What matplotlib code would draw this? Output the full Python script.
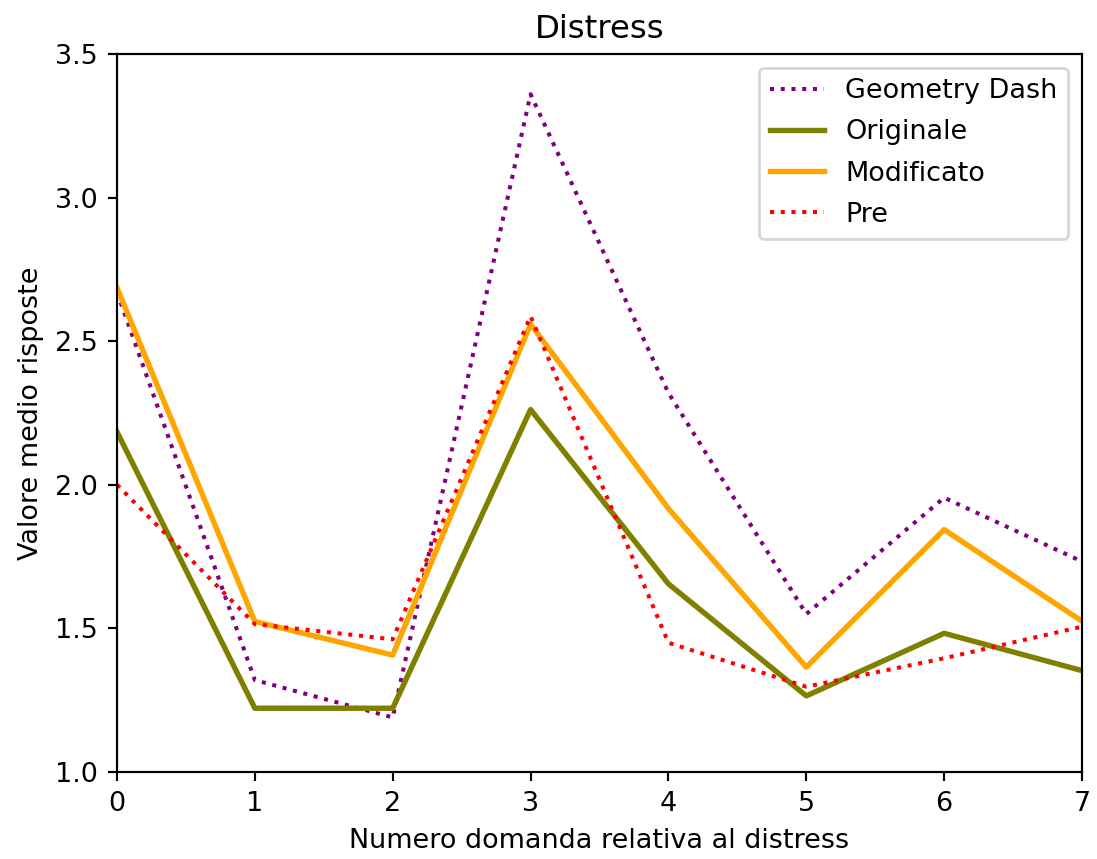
import matplotlib
matplotlib.use("Agg")
import matplotlib.pyplot as plt

questions = [0, 1, 2, 3, 4, 5, 6, 7]
geometry_dash = [2.67, 1.32, 1.19, 3.36, 2.32, 1.55, 1.955, 1.733]
originale = [2.184, 1.222, 1.222, 2.262, 1.655, 1.265, 1.483, 1.353]
modificato = [2.686, 1.524, 1.407, 2.559, 1.917, 1.365, 1.844, 1.525]
pre = [2.0, 1.515, 1.462, 2.587, 1.45, 1.297, 1.396, 1.506]

DPI = 194.5
fig = plt.figure(figsize=(1097 / DPI, 859 / DPI), dpi=DPI)
ax = fig.add_axes([117 / 1097, 1 - 772 / 859, 965 / 1097, 718 / 859])

ax.plot(questions, geometry_dash, linestyle=':', color='purple', label='Geometry Dash')
ax.plot(questions, originale, linestyle='-', color='olive', linewidth=2, label='Originale')
ax.plot(questions, modificato, linestyle='-', color='orange', linewidth=2, label='Modificato')
ax.plot(questions, pre, linestyle=':', color='red', label='Pre')

ax.set_xlim(0, 7)
ax.set_ylim(1.0, 3.5)
ax.set_title('Distress')
ax.set_xlabel('Numero domanda relativa al distress')
ax.set_ylabel('Valore medio risposte')
ax.legend(loc='upper right', labelspacing=0.56)

fig.savefig('out.png', dpi=DPI)
